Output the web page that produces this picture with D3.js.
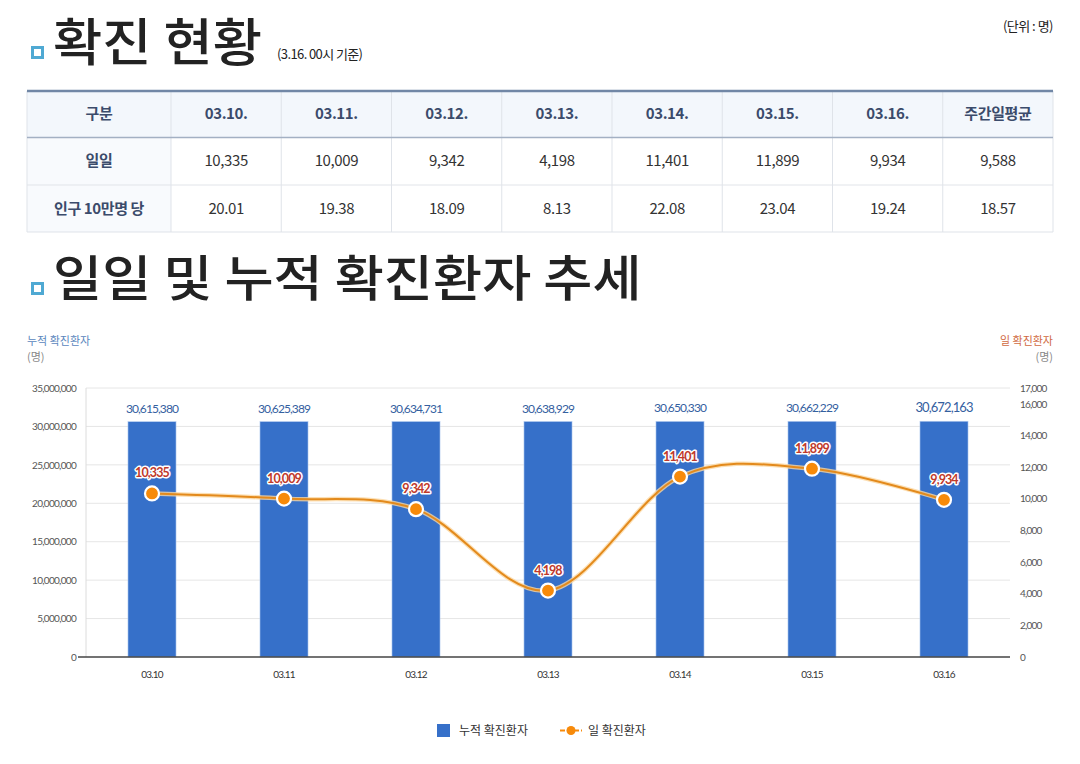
<!DOCTYPE html>
<html>
<head>
<meta charset="utf-8">
<script src="https://cdn.jsdelivr.net/npm/d3@7"></script>
<style>
  body { margin: 0; background: #fff; }
  text { font-family: "Noto Sans CJK KR", "Noto Sans", sans-serif; }
  .num { font-family: Lato, "Noto Sans", sans-serif; }
</style>
</head>
<body>
<script>
// data
var dates = ["03.10", "03.11", "03.12", "03.13", "03.14", "03.15", "03.16"];
var daily = [10335, 10009, 9342, 4198, 11401, 11899, 9934];
var per100k = [20.01, 19.38, 18.09, 8.13, 22.08, 23.04, 19.24];
var cumulative = [30615380, 30625389, 30634731, 30638929, 30650330, 30662229, 30672163];
var weeklyAvg = 9588;
var weeklyAvgPer100k = 18.57;
var leftTicks = [0, 5000000, 10000000, 15000000, 20000000, 25000000, 30000000, 35000000];
var rightTicks = [0, 2000, 4000, 6000, 8000, 10000, 12000, 14000, 16000, 17000];

var width = 1080;
var height = 764;
var fmt = d3.format(",");

var svg = d3.select("body")
    .append("svg")
    .attr("width", width)
    .attr("height", height);

// section icon
function icon(y) {
    svg.append("rect")
        .attr("x", 32.5).attr("y", y)
        .attr("width", 10).attr("height", 10)
        .attr("fill", "#fff")
        .attr("stroke", "#4fa9d3")
        .attr("stroke-width", 3);
}

// ---------- title 1 ----------
icon(47.5);
svg.append("text")
    .attr("transform", "translate(53,61) scale(1.05,1)")
    .attr("font-size", 51).attr("font-weight", 500)
    .attr("fill", "#222")
    .text("확진 현황");
svg.append("text")
    .attr("x", 277).attr("y", 59)
    .attr("font-size", 13).attr("fill", "#222")
    .attr("letter-spacing", -0.6)
    .text("(3.16. 00시 기준)");
svg.append("text")
    .attr("x", 1053).attr("y", 31)
    .attr("text-anchor", "end")
    .attr("font-size", 13).attr("fill", "#222")
    .attr("letter-spacing", -0.5)
    .text("(단위 : 명)");

// ---------- table ----------
var headers = ["구분"].concat(dates.map(d => d + ".")).concat(["주간일평균"]);
var rows = [
    { label: "일일", values: daily.map(fmt).concat([fmt(weeklyAvg)]) },
    { label: "인구 10만명 당", values: per100k.map(d => d.toFixed(2)).concat([weeklyAvgPer100k.toFixed(2)]) }
];

var tLeft = 27, tRight = 1053, firstColW = 144;
var colScale = d3.scaleBand()
    .domain(d3.range(8))
    .range([tLeft + firstColW, tRight]);
var rowY = [91, 137.5, 185, 232];

var table = svg.append("g");
// header background
table.append("rect")
    .attr("x", tLeft).attr("y", rowY[0])
    .attr("width", tRight - tLeft).attr("height", rowY[1] - rowY[0])
    .attr("fill", "#f3f7fc");
// first column background
table.append("rect")
    .attr("x", tLeft).attr("y", rowY[1])
    .attr("width", firstColW).attr("height", rowY[3] - rowY[1])
    .attr("fill", "#f8fafd");

// vertical cell lines
var vx = [tLeft].concat(d3.range(8).map(i => colScale(i))).concat([tRight]);
table.selectAll("line.v")
    .data(vx)
    .enter()
    .append("line")
    .attr("x1", d => d).attr("x2", d => d)
    .attr("y1", rowY[0]).attr("y2", rowY[3])
    .attr("stroke", "#dfe3e9");
// horizontal lines
table.append("line")
    .attr("x1", tLeft).attr("x2", tRight)
    .attr("y1", rowY[2]).attr("y2", rowY[2])
    .attr("stroke", "#e1e4e9");
table.append("line")
    .attr("x1", tLeft).attr("x2", tRight)
    .attr("y1", rowY[3]).attr("y2", rowY[3])
    .attr("stroke", "#dfe3e9");
table.append("line")
    .attr("x1", tLeft).attr("x2", tRight)
    .attr("y1", rowY[1]).attr("y2", rowY[1])
    .attr("stroke", "#a3b0c3").attr("stroke-width", 1.5);
table.append("line")
    .attr("x1", tLeft).attr("x2", tRight)
    .attr("y1", rowY[0]).attr("y2", rowY[0])
    .attr("stroke", "#7187a6").attr("stroke-width", 2.5);

function colCenter(i) {
    return i === 0 ? tLeft + firstColW / 2 : colScale(i - 1) + colScale.bandwidth() / 2;
}

table.selectAll("text.h")
    .data(headers)
    .enter()
    .append("text")
    .attr("x", (d, i) => colCenter(i))
    .attr("y", (rowY[0] + rowY[1]) / 2 + 5)
    .attr("text-anchor", "middle")
    .attr("font-size", 15).attr("font-weight", 700)
    .attr("fill", "#3b4b6b")
    .attr("letter-spacing", -0.4)
    .text(d => d);

rows.forEach(function(r, ri) {
    var cy = (rowY[ri + 1] + rowY[ri + 2]) / 2 + 5;
    table.append("text")
        .attr("x", colCenter(0)).attr("y", cy)
        .attr("text-anchor", "middle")
        .attr("font-size", 15).attr("font-weight", 700)
        .attr("fill", "#3b4b6b")
        .attr("letter-spacing", -0.4)
        .text(r.label);
    table.selectAll("text.r" + ri)
        .data(r.values)
        .enter()
        .append("text")
        .attr("x", (d, i) => colCenter(i + 1))
        .attr("y", cy)
        .attr("text-anchor", "middle")
        .attr("font-size", 15)
        .attr("fill", "#333")
        .attr("letter-spacing", -0.4)
        .text(d => d);
});

// ---------- title 2 ----------
icon(283.5);
svg.append("text")
    .attr("transform", "translate(53,296) scale(1.09,1)")
    .attr("font-size", 49).attr("font-weight", 500)
    .attr("fill", "#222")
    .text("일일 및 누적 확진환자 추세");

// ---------- chart ----------
var plotL = 86, plotR = 1010, plotT = 388, plotB = 657;

var xScale = d3.scaleBand()
    .domain(dates)
    .range([plotL, plotR])
    .paddingInner(0.636)
    .paddingOuter(0.318);

var yLeft = d3.scaleLinear()
    .domain([0, 35000000])
    .range([plotB, plotT]);

var yRight = d3.scaleLinear()
    .domain([0, 17000])
    .range([plotB, plotT]);

// axis titles
svg.append("text").attr("x", 27).attr("y", 345)
    .attr("font-size", 11).attr("fill", "#5a86bd").text("누적 확진환자");
svg.append("text").attr("x", 27).attr("y", 361)
    .attr("font-size", 11).attr("fill", "#888").text("(명)");
svg.append("text").attr("x", 1053).attr("y", 345).attr("text-anchor", "end")
    .attr("font-size", 11).attr("fill", "#d0693f").text("일 확진환자");
svg.append("text").attr("x", 1053).attr("y", 361).attr("text-anchor", "end")
    .attr("font-size", 11).attr("fill", "#888").text("(명)");

// gridlines
svg.append("g")
    .selectAll("line")
    .data(leftTicks.slice(1))
    .enter()
    .append("line")
    .attr("x1", plotL).attr("x2", plotR)
    .attr("y1", d => yLeft(d)).attr("y2", d => yLeft(d))
    .attr("stroke", "#e6e6e6");

svg.append("line")
    .attr("x1", plotL).attr("x2", plotL)
    .attr("y1", plotT).attr("y2", plotB)
    .attr("stroke", "#dcdcdc");

// left axis
var leftAxis = svg.append("g")
    .attr("transform", `translate(${plotL - 10}, 0)`)
    .call(d3.axisLeft(yLeft).tickValues(leftTicks).tickSize(0).tickPadding(0).tickFormat(fmt));
leftAxis.select(".domain").remove();
leftAxis.selectAll("text")
    .attr("class", "num")
    .attr("font-size", 10)
    .attr("fill", "#555")
    .attr("letter-spacing", -0.7);

// right axis
var rightAxis = svg.append("g")
    .attr("transform", `translate(${plotR + 10}, 0)`)
    .call(d3.axisRight(yRight).tickValues(rightTicks).tickSize(0).tickPadding(0).tickFormat(fmt));
rightAxis.select(".domain").remove();
rightAxis.selectAll("text")
    .attr("class", "num")
    .attr("font-size", 10)
    .attr("fill", "#555")
    .attr("letter-spacing", -0.8);

// bars
svg.append("g")
    .selectAll("rect")
    .data(cumulative)
    .enter()
    .append("rect")
    .attr("x", (d, i) => xScale(dates[i]))
    .attr("y", d => yLeft(d))
    .attr("width", xScale.bandwidth())
    .attr("height", d => plotB - yLeft(d))
    .attr("fill", "#3670c9")
    .attr("stroke", "#b3cbee")
    .attr("stroke-width", 0.6);

// bar labels
svg.append("g")
    .selectAll("text")
    .data(cumulative)
    .enter()
    .append("text")
    .attr("class", "num")
    .attr("x", (d, i) => xScale(dates[i]) + xScale.bandwidth() / 2)
    .attr("y", d => yLeft(d) - 9)
    .attr("text-anchor", "middle")
    .attr("font-size", (d, i) => i === cumulative.length - 1 ? 13 : 12)
    .attr("fill", "#34609f")
    .attr("letter-spacing", -0.9)
    .text(d => fmt(d));

// x axis
var xAxis = svg.append("g")
    .attr("transform", `translate(0, ${plotB})`)
    .call(d3.axisBottom(xScale).tickSize(0).tickPadding(14));
xAxis.select(".domain").remove();
xAxis.selectAll("text")
    .attr("class", "num")
    .attr("font-size", 10)
    .attr("fill", "#333")
    .attr("letter-spacing", -0.8);

svg.append("line")
    .attr("x1", plotL - 8).attr("x2", plotR)
    .attr("y1", plotB).attr("y2", plotB)
    .attr("stroke", "#444").attr("stroke-width", 1.5);

// daily line
var line = d3.line()
    .x((d, i) => xScale(dates[i]) + xScale.bandwidth() / 2)
    .y(d => yRight(d))
    .curve(d3.curveCardinal.tension(0));

svg.append("path")
    .datum(daily)
    .attr("d", line)
    .attr("fill", "none")
    .attr("stroke", "#fbd7a0")
    .attr("stroke-width", 4.5)
    .attr("opacity", 0.8);
svg.append("path")
    .datum(daily)
    .attr("d", line)
    .attr("fill", "none")
    .attr("stroke", "#e38a1c")
    .attr("stroke-width", 2);

svg.append("g")
    .selectAll("circle")
    .data(daily)
    .enter()
    .append("circle")
    .attr("cx", (d, i) => xScale(dates[i]) + xScale.bandwidth() / 2)
    .attr("cy", d => yRight(d))
    .attr("r", 7)
    .attr("fill", "#f78a0a")
    .attr("stroke", "#fff")
    .attr("stroke-width", 2.2);

svg.append("g")
    .selectAll("text")
    .data(daily)
    .enter()
    .append("text")
    .attr("class", "num")
    .attr("x", (d, i) => xScale(dates[i]) + xScale.bandwidth() / 2)
    .attr("y", d => yRight(d) - 16)
    .attr("text-anchor", "middle")
    .attr("font-size", 12.5)
    .attr("font-weight", 700)
    .attr("fill", "#c0392b")
    .attr("stroke", "#fff")
    .attr("stroke-width", 3)
    .attr("stroke-linejoin", "round")
    .attr("paint-order", "stroke")
    .attr("letter-spacing", -0.9)
    .text(d => fmt(d));

// legend
var legend = svg.append("g");
legend.append("rect")
    .attr("x", 437).attr("y", 724)
    .attr("width", 13).attr("height", 13)
    .attr("fill", "#3670c9");
legend.append("text")
    .attr("x", 459).attr("y", 735)
    .attr("font-size", 12).attr("fill", "#333")
    .text("누적 확진환자");
legend.append("line")
    .attr("x1", 560).attr("x2", 582)
    .attr("y1", 730.5).attr("y2", 730.5)
    .attr("stroke", "#f78a0a").attr("stroke-width", 2)
    .attr("stroke-dasharray", "5,2");
legend.append("circle")
    .attr("cx", 571).attr("cy", 730.5).attr("r", 4.5)
    .attr("fill", "#f78a0a");
legend.append("text")
    .attr("x", 588).attr("y", 735)
    .attr("font-size", 12).attr("fill", "#333")
    .text("일 확진환자");
</script>
</body>
</html>
